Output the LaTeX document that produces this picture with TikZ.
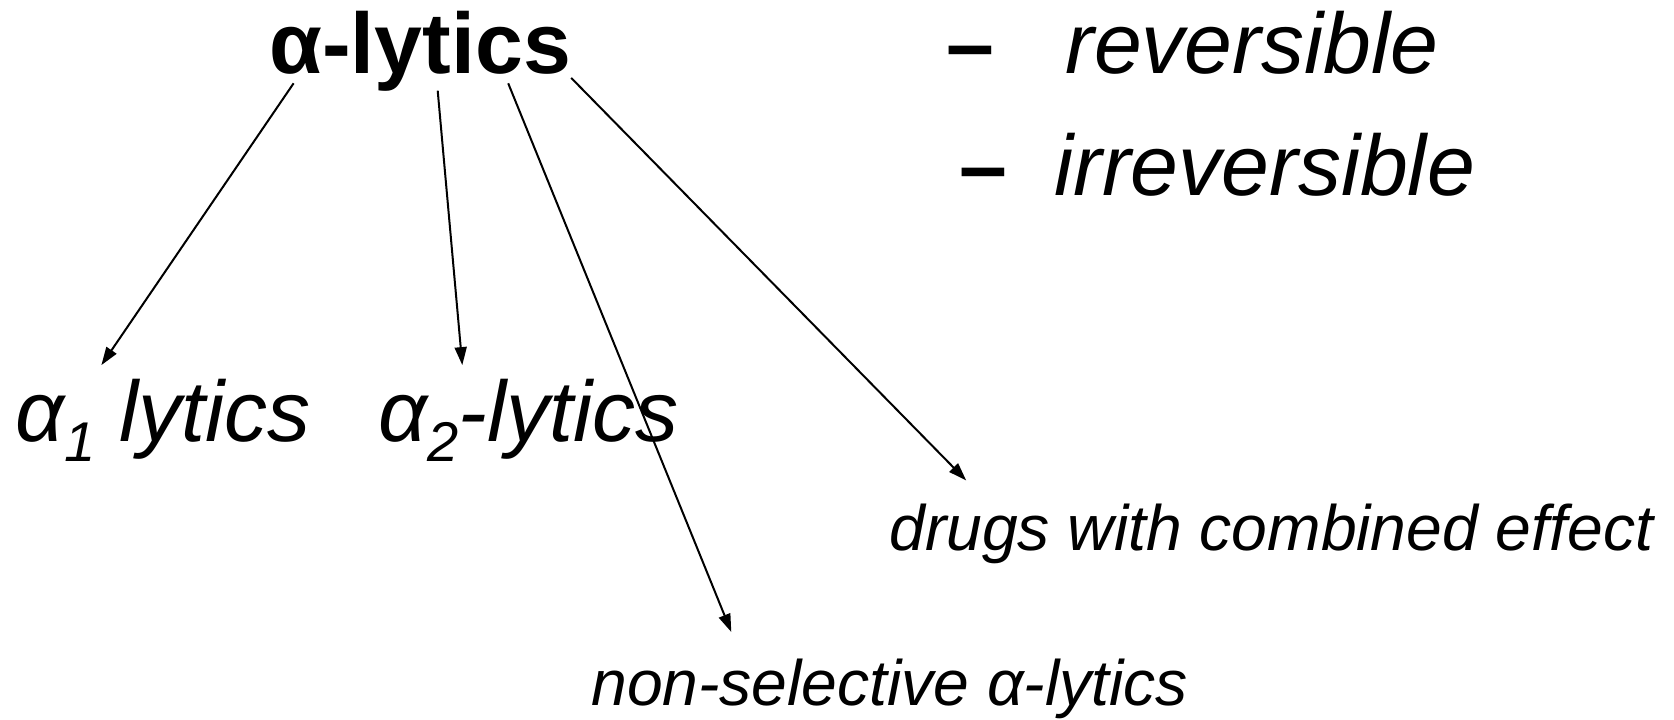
\documentclass[tikz,border=0pt]{standalone}
\usepackage{fontspec}
\setmainfont{Liberation Sans}
\usetikzlibrary{arrows.meta}
\begin{document}
\begin{tikzpicture}[x=0.5pt,y=-0.5pt,
  big/.style={font=\fontsize{43}{52}\selectfont\itshape, inner sep=0pt, anchor=base west},
  bigbold/.style={font=\fontsize{43}{52}\selectfont\bfseries, inner sep=0pt, anchor=base west},
  small/.style={font=\fontsize{32.1}{38}\selectfont\itshape, inner sep=0pt, anchor=base west},
  arr/.style={-{Triangle[length=9pt,width=6pt]}, line width=1pt}]
\useasboundingbox (0,0) rectangle (1674,719);
% texts
\node[bigbold] (title) at (269,73) {α-lytics};
\node[bigbold] (d1) at (946,73) {–};
\node[big] (rev) at (1065,73) {reversible};
\node[bigbold] (d2) at (959,195) {–};
\node[big] (irr) at (1054,195) {irreversible};
\node[big] (a1) at (15,441) {α\raisebox{-0.24em}{\fontsize{28}{32}\selectfont 1} lytics};
\node[big] (a2) at (378,441) {α\raisebox{-0.24em}{\fontsize{28}{32}\selectfont 2}-lytics};
\node[small] (comb) at (889,550) {drugs with combined effect};
\node[small] (nons) at (591,705) {non-selective α-lytics};
% connector ends
\coordinate (s1) at (293.6,83.3);
\coordinate (s2) at (437.7,90.7);
\coordinate (s3) at (508.2,83.3);
\coordinate (s4) at (571.2,77.9);
\coordinate (e1) at (101.4,365.1);
\coordinate (e2) at (462.3,365.1);
\coordinate (e3) at (731.3,632);
\coordinate (e4) at (966.2,480.4);
\draw[arr] (s1) -- (e1);
\draw[arr] (s2) -- (e2);
\draw[arr] (s3) -- (e3);
\draw[arr] (s4) -- (e4);
\end{tikzpicture}
\end{document}
